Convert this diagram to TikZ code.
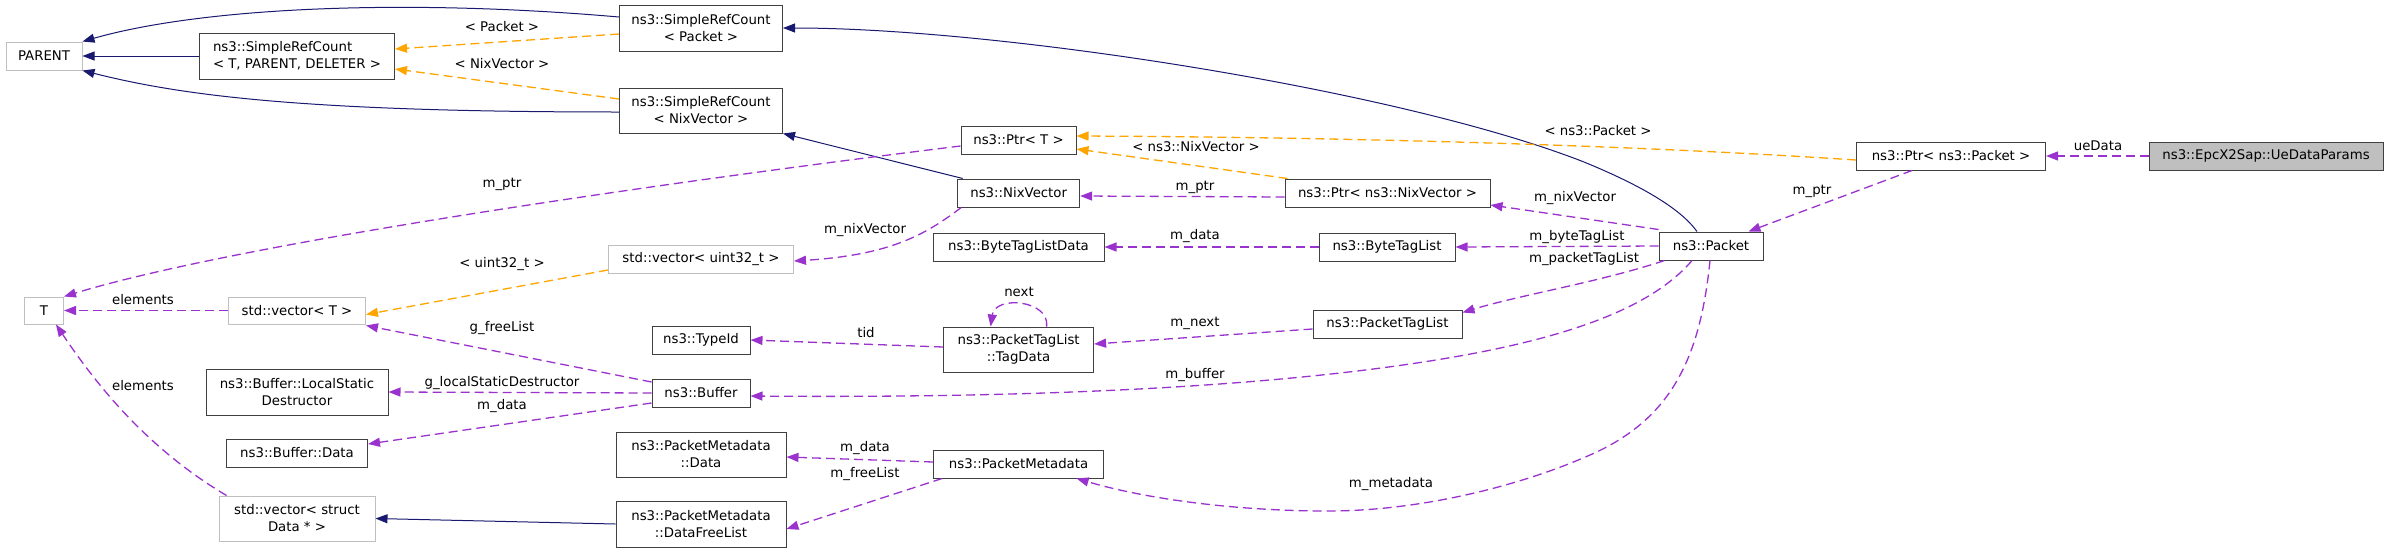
\documentclass[tikz,border=0pt]{standalone}
\usepackage{fontspec}
\setmainfont{DejaVu Sans}
\usetikzlibrary{arrows.meta}
\definecolor{navy}{HTML}{191970}
\definecolor{orch}{HTML}{9A32CD}
\definecolor{orng}{HTML}{FFA500}
\definecolor{lgray}{HTML}{BFBFBF}
\definecolor{bord}{HTML}{404040}
\newcommand\fsz{\fontsize{13.3}{17}\selectfont}
\begin{document}
\begin{tikzpicture}[x=1pt,y=-1pt,
  box/.style={draw=bord, line width=1pt, fill=white, inner sep=0pt, align=center, font=\fsz},
  ext/.style={box, draw=lgray},
  lbl/.style={font=\fsz, inner sep=0pt},
  inh/.style={draw=navy, line width=1pt, -{Triangle[length=12pt,width=9pt]}},
  mem/.style={draw=orch, line width=1.3pt, dash pattern=on 9pt off 5pt, -{Triangle[length=12pt,width=9pt]}},
  tmpl/.style={draw=orng, line width=1.3pt, dash pattern=on 9pt off 5pt, -{Triangle[length=12pt,width=9pt]}}]
\useasboundingbox (0,0) rectangle (2384,552);
\fill[white] (0,0) rectangle (2384,552);
% nodes
\node[ext, minimum width=76pt, minimum height=28pt] (parent) at (44,56) {PARENT};
\node[box, minimum width=195pt, minimum height=46pt, align=left] (srcT) at (297,56) {ns3::SimpleRefCount\\< T, PARENT, DELETER >};
\node[box, minimum width=163pt, minimum height=46pt] (srcPacket) at (701,28) {ns3::SimpleRefCount\\< Packet >};
\node[box, minimum width=163pt, minimum height=45pt] (srcNix) at (701,110.5) {ns3::SimpleRefCount\\< NixVector >};
\node[ext, minimum width=185pt, minimum height=28pt] (vecU32) at (701,259) {std::vector< uint32\_t >};
\node[ext, minimum width=39pt, minimum height=27pt] (T) at (44,310.5) {T};
\node[ext, minimum width=137pt, minimum height=27pt] (vecT) at (297,310.5) {std::vector< T >};
\node[box, minimum width=98pt, minimum height=28pt] (typeId) at (701,340) {ns3::TypeId};
\node[box, minimum width=98pt, minimum height=28pt] (buffer) at (701,393) {ns3::Buffer};
\node[box, minimum width=182pt, minimum height=46pt] (lsd) at (297,392) {ns3::Buffer::LocalStatic\\Destructor};
\node[box, minimum width=141pt, minimum height=28pt] (bufData) at (297,453) {ns3::Buffer::Data};
\node[box, minimum width=170pt, minimum height=45pt] (pmData) at (701,454.5) {ns3::PacketMetadata\\::Data};
\node[ext, minimum width=156pt, minimum height=45pt] (vecStruct) at (297,518.5) {std::vector< struct\\Data * >};
\node[box, minimum width=170pt, minimum height=46pt] (freeList) at (701,524) {ns3::PacketMetadata\\::DataFreeList};
\node[box, minimum width=115pt, minimum height=28pt] (ptrT) at (1018.5,140) {ns3::Ptr< T >};
\node[box, minimum width=122pt, minimum height=28pt] (nix) at (1018.7,193) {ns3::NixVector};
\node[box, minimum width=205pt, minimum height=28pt] (ptrNix) at (1387.5,193) {ns3::Ptr< ns3::NixVector >};
\node[box, minimum width=171pt, minimum height=28pt] (btld) at (1018.5,247) {ns3::ByteTagListData};
\node[box, minimum width=136pt, minimum height=28pt] (btl) at (1387,247) {ns3::ByteTagList};
\node[box, minimum width=150pt, minimum height=45pt] (tagData) at (1018.6,349.5) {ns3::PacketTagList\\::TagData};
\node[box, minimum width=149pt, minimum height=28pt] (ptl) at (1387.5,324) {ns3::PacketTagList};
\node[box, minimum width=170pt, minimum height=28pt] (pm) at (1018.6,464) {ns3::PacketMetadata};
\node[box, minimum width=189pt, minimum height=28pt] (ptrPacket) at (1951,156) {ns3::Ptr< ns3::Packet >};
\node[box, fill=lgray, minimum width=234pt, minimum height=28pt] (ue) at (2266,156) {ns3::EpcX2Sap::UeDataParams};
\node[box, minimum width=104pt, minimum height=28pt] (packet) at (1711,246) {ns3::Packet};
% inheritance (navy)
\draw[inh] ([yshift=11pt]srcPacket.west) .. controls (400,-2) and (200,8) .. (parent.north east);
\draw[inh] (srcT.west) -- (parent.east);
\draw[inh] ([yshift=-1.5pt]srcNix.west) .. controls (300,112) and (180,95) .. (parent.south east);
\draw[inh] ([xshift=-14pt]packet.north) .. controls (1680,208) and (1640,185) .. (1584,162)
  .. controls (1400,90) and (1000,28) .. (srcPacket.east);
\draw[inh] ([xshift=-56pt]nix.north) -- (srcNix.south east);
\draw[inh] (freeList.west) -- (vecStruct.east);
% template (orange)
\draw[tmpl] ([yshift=-6pt]srcPacket.west) -- ([yshift=7pt]srcT.east);
\node[lbl] (lPacket) at (502,27) {< Packet >};
\draw[tmpl] ([yshift=11.5pt]srcNix.west) -- ([yshift=-13pt]srcT.east);
\node[lbl] (lNix) at (502,64) {< NixVector >};
\draw[tmpl] ([yshift=-4pt]ptrPacket.west) .. controls (1600,143) and (1300,137) .. ([yshift=4pt]ptrT.east);
\node[lbl] (lnsPacket) at (1598,131) {< ns3::Packet >};
\draw[tmpl] ([xshift=-100pt]ptrNix.north) -- ([yshift=-9pt]ptrT.east);
\node[lbl] (lnsNix) at (1196,147) {< ns3::NixVector >};
\draw[tmpl] ([yshift=-11pt]vecU32.west) -- ([yshift=10pt]vecT.south east);
\node[lbl] (lu32) at (502,264) {< uint32\_t >};
% members (purple)
\draw[mem] ([yshift=-6pt]ptrT.west) .. controls (700,178) and (250,240) .. (T.north east);
\node[lbl] (lmptr1) at (502,184) {m\_ptr};
\draw[mem] ([yshift=-4pt]ptrNix.west) -- ([yshift=-3pt]nix.east);
\node[lbl] (lmptr2) at (1195,187) {m\_ptr};
\draw[mem] ([yshift=2pt]packet.north west) -- ([yshift=-12pt]ptrNix.east);
\node[lbl] (lnixv1) at (1575,198) {m\_nixVector};
\draw[mem] ([xshift=4pt]nix.south west) .. controls (925,235) and (890,255) .. ([yshift=-2pt]vecU32.east);
\node[lbl] (lnixv2) at (865,230) {m\_nixVector};
\draw[mem] (vecT.west) -- (T.east);
\node[lbl] (lel1) at (143,300) {elements};
\draw[mem] ([xshift=8pt]vecStruct.north west) .. controls (150,450) and (100,390) .. ([xshift=12pt]T.south);
\node[lbl] (lel2) at (143,386) {elements};
\draw[mem] ([yshift=11pt]buffer.west) -- ([yshift=-1pt]vecT.south east);
\node[lbl] (lgfree) at (502,328) {g\_freeList};
\draw[mem] (buffer.west) -- (lsd.east);
\node[lbl] (lglsd) at (502,383) {g\_localStaticDestructor};
\draw[mem] ([yshift=-10pt]buffer.west) -- ([yshift=9pt]bufData.east);
\node[lbl] (lmdata1) at (502,406) {m\_data};
\draw[mem] ([yshift=2.5pt]tagData.west) -- (typeId.east);
\node[lbl] (ltid) at (866,333) {tid};
\draw[mem] ([xshift=28pt]tagData.north) .. controls (1050,300) and (995,295) .. ([xshift=-28pt]tagData.north);
\node[lbl] (lnext) at (1019,292) {next};
\draw[mem] ([yshift=-5pt]ptl.west) -- ([yshift=5.5pt]tagData.east);
\node[lbl] (lmnext) at (1195,323) {m\_next};
\draw[mem] ([xshift=6pt]packet.south west) .. controls (1600,282) and (1520,295) .. ([yshift=-3pt]ptl.north east);
\node[lbl] (lptl) at (1584,259) {m\_packetTagList};
\draw[mem] (packet.west) -- (btl.east);
\node[lbl] (lbtl) at (1577,237) {m\_byteTagList};
\draw[mem] (btl.west) -- (btld.east);
\node[lbl] (lmdata2) at (1195,236) {m\_data};
\draw[mem] ([xshift=-19pt]packet.south) .. controls (1650,310) and (1560,340) .. (1436,360)
  .. controls (1250,390) and (1000,398) .. ([yshift=-3pt]buffer.east);
\node[lbl] (lmbuf) at (1195,375) {m\_buffer};
\draw[mem] ([xshift=-1pt]packet.south) .. controls (1700,360) and (1670,420) .. (1590,455)
  .. controls (1520,486) and (1420,511) .. (1328,511)
  .. controls (1240,511) and (1150,500) .. ([xshift=58pt]pm.south);
\node[lbl] (lmeta) at (1391,484) {m\_metadata};
\draw[mem] ([yshift=2pt]pm.west) -- ([yshift=-2.5pt]pmData.east);
\node[lbl] (lmdata3) at (865,448) {m\_data};
\draw[mem] ([xshift=9pt]pm.south west) -- ([yshift=-5pt]freeList.east);
\node[lbl] (lfree) at (865,474) {m\_freeList};
\draw[mem] ([xshift=-39pt]ptrPacket.south) -- ([xshift=-15pt]packet.north east);
\node[lbl] (lmptr3) at (1812,191) {m\_ptr};
\draw[mem] (ue.west) -- (ptrPacket.east);
\node[lbl] (lue) at (2098,146) {ueData};
\end{tikzpicture}
\end{document}
